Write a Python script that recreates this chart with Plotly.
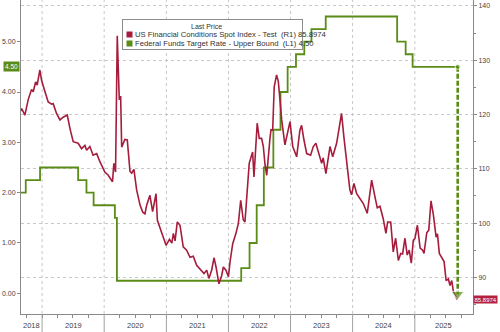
import plotly.graph_objects as go
import pandas as pd

# ---------------- data ----------------
fci_dates = [
    "2018-08-25", "2018-09-03", "2018-09-22", "2018-10-11", "2018-10-31", "2018-11-10", "2018-11-24",
    "2018-12-03", "2018-12-19", "2018-12-29", "2019-01-18", "2019-02-06", "2019-02-26", "2019-03-07",
    "2019-03-27", "2019-04-16", "2019-05-05", "2019-05-29", "2019-06-14", "2019-07-03", "2019-08-01",
    "2019-08-21", "2019-09-10", "2019-09-20", "2019-10-09", "2019-10-28", "2019-11-18", "2019-12-07",
    "2020-01-05", "2020-01-25", "2020-02-19", "2020-02-27", "2020-03-08", "2020-03-18", "2020-03-30",
    "2020-04-07", "2020-04-13", "2020-05-02", "2020-05-16", "2020-06-01", "2020-06-11", "2020-06-24",
    "2020-07-10", "2020-07-30", "2020-08-15", "2020-08-28", "2020-09-07", "2020-09-26", "2020-10-12",
    "2020-11-01", "2020-11-09", "2020-12-04", "2020-12-30", "2021-01-19", "2021-02-02", "2021-02-11",
    "2021-02-21", "2021-03-06", "2021-03-22", "2021-04-10", "2021-04-30", "2021-05-20", "2021-06-08",
    "2021-06-28", "2021-07-22", "2021-08-10", "2021-08-26", "2021-09-08", "2021-09-24", "2021-10-08",
    "2021-10-20", "2021-11-06", "2021-11-22", "2021-12-02", "2021-12-17", "2022-01-01", "2022-01-10",
    "2022-01-26", "2022-02-14", "2022-02-28", "2022-03-14", "2022-03-29", "2022-04-08", "2022-04-22",
    "2022-05-03", "2022-05-23", "2022-05-31", "2022-06-19", "2022-07-01", "2022-07-15", "2022-07-25",
    "2022-08-04", "2022-08-14", "2022-09-02", "2022-09-08", "2022-09-18", "2022-09-27", "2022-10-11",
    "2022-10-21", "2022-10-31", "2022-11-10", "2022-11-29", "2022-12-19", "2022-12-29", "2023-01-14",
    "2023-02-06", "2023-02-25", "2023-03-07", "2023-03-21", "2023-04-06", "2023-04-29", "2023-05-15",
    "2023-05-30", "2023-06-19", "2023-07-03", "2023-07-12", "2023-07-28", "2023-08-21", "2023-09-06",
    "2023-09-29", "2023-10-14", "2023-10-28", "2023-11-11", "2023-11-30", "2023-12-16", "2023-12-26",
    "2024-01-09", "2024-01-25", "2024-02-13", "2024-03-04", "2024-03-27", "2024-04-22", "2024-05-11",
    "2024-05-25", "2024-06-10", "2024-06-29", "2024-07-15", "2024-07-25", "2024-08-12", "2024-08-27",
    "2024-09-10", "2024-09-26", "2024-10-10", "2024-10-21", "2024-11-04", "2024-11-17", "2024-11-29",
    "2024-12-11", "2024-12-23", "2025-01-02", "2025-01-16", "2025-02-01", "2025-02-16", "2025-02-24",
    "2025-03-12", "2025-03-24", "2025-04-06", "2025-04-20", "2025-05-06", "2025-05-14", "2025-05-25",
    "2025-06-09", "2025-06-22", "2025-07-04", "2025-07-17", "2025-07-27", "2025-08-06", "2025-08-16",
    "2025-08-28", "2025-09-08",
]
fci_values = [
    120.5, 121.1, 119.9, 122.7, 124.6, 124.2, 126.0,
    125.4, 128.2, 126.3, 124.2, 122.3, 121.9, 122.0,
    120.2, 119.0, 119.5, 119.9, 117.4, 115.0, 114.7,
    113.7, 114.3, 113.4, 114.1, 112.5, 112.8, 111.3,
    109.4, 108.8, 107.6, 111.0, 109.4, 134.5, 122.7,
    123.4, 114.0, 115.4, 115.3, 109.5, 109.2, 109.9,
    106.1, 103.3, 102.0, 101.7, 103.3, 105.1, 102.1,
    105.4, 100.5, 98.1, 95.9, 97.0, 96.3, 98.1,
    96.7, 100.2, 99.6, 95.6, 95.0, 93.7, 93.9,
    92.2, 91.3, 90.7, 91.3, 89.8, 91.3, 93.6,
    91.9, 88.8, 90.3, 91.9, 91.3, 90.1, 92.8,
    96.2, 98.1, 99.9, 104.2, 100.6, 100.2, 107.3,
    111.0, 113.1, 108.5, 118.4, 115.6, 115.6, 114.1,
    110.7, 108.8, 115.6, 117.2, 117.1, 125.1, 127.3,
    126.1, 122.7, 119.0, 114.4, 117.1, 118.7, 114.1,
    112.2, 117.1, 118.0, 115.3, 112.8, 112.5, 114.1,
    114.7, 112.2, 111.0, 112.0, 109.1, 114.1, 112.2,
    114.7, 117.7, 120.2, 115.8, 110.3, 106.1, 105.2,
    107.3, 105.4, 104.5, 103.6, 101.8, 107.9, 104.9,
    102.8, 103.1, 100.8, 98.1, 100.2, 100.2, 94.7,
    97.2, 93.1, 94.4, 94.3, 97.2, 94.1, 95.0,
    92.6, 96.8, 97.2, 99.6, 95.4, 95.0, 94.4,
    98.2, 98.7, 104.1, 101.5, 97.4, 98.0, 94.4,
    93.5, 92.9, 89.4, 89.7, 88.5, 89.4, 87.3,
    86.7, 85.8974,
]

fed_dates = [
    "2018-06-14", "2018-09-27", "2018-12-20", "2019-08-01", "2019-09-19", "2019-10-31",
    "2020-03-04", "2020-03-16", "2022-03-17", "2022-05-05", "2022-06-16", "2022-07-28",
    "2022-09-22", "2022-11-03", "2022-12-15", "2023-02-02", "2023-03-23", "2023-05-04",
    "2023-07-27", "2024-09-19", "2024-11-08", "2024-12-19", "2025-09-10",
]
fed_rates = [
    2.00, 2.25, 2.50, 2.25, 2.00, 1.75,
    1.50, 0.25, 0.50, 1.00, 1.75, 2.50,
    3.25, 4.00, 4.50, 4.75, 5.00, 5.25,
    5.50, 5.00, 4.75, 4.50, 4.50,
]

years = [2018, 2019, 2020, 2021, 2022, 2023, 2024, 2025]
left_ticks = [0, 1, 2, 3, 4, 5]
left_ticktext = ["0.00", "1.00", "2.00", "3.00", "4.00", "5.00"]
right_ticks = [90, 100, 110, 120, 130, 140]
right_minor = [85, 95, 105, 115, 125, 135]

last_fci = 85.8974
last_fed = 4.50
arrow_date = "2025-09-10"
arrow_bottom_right = 86.9

x_range = ["2018-08-30", "2025-12-09"]
left_range = [-0.411, 5.828]
right_range = [83.24, 141.1]

legend_title = "Last Price"
fci_name = "US Financial Conditions Spot Index - Test  (R1) 85.8974"
fed_name = "Federal Funds Target Rate - Upper Bound  (L1) 4.50"

# ---------------- style ----------------
GREEN = "#5a8c17"
RED = "#a51c3c"
RED_LABEL = "#b3233f"
AX = "#8a8a8a"
TXT = "#444444"
FONT = "Liberation Sans"
W, H = 500, 332
ML, MR, MT, MB = 21, 27, 0, 18
PW, PH = W - ML - MR, H - MT - MB


def px(x):
    return (x - ML) / PW


def py(y):
    return (H - MB - y) / PH


def left_to_right(v):
    return right_range[0] + (v - left_range[0]) * (right_range[1] - right_range[0]) / (left_range[1] - left_range[0])


fig = go.Figure()

fig.add_trace(go.Scatter(
    x=fed_dates, y=fed_rates, mode="lines", line=dict(color=GREEN, width=1.8, shape="hv"),
    yaxis="y", showlegend=False, hoverinfo="skip"))

fig.add_trace(go.Scatter(
    x=fci_dates, y=fci_values, mode="lines", line=dict(color=RED, width=1.6),
    yaxis="y2", showlegend=False, hoverinfo="skip"))

fig.add_trace(go.Scatter(
    x=[arrow_date, arrow_date], y=[left_to_right(last_fed), arrow_bottom_right],
    mode="lines+markers", yaxis="y2",
    line=dict(color=GREEN, width=2.6, dash="5px,2px"),
    marker=dict(symbol=["circle", "triangle-down"], size=[5, 11], color=GREEN),
    showlegend=False, hoverinfo="skip"))

shapes = []
annotations = []

# year separators and labels
xr0, xr1 = pd.Timestamp(x_range[0]), pd.Timestamp(x_range[1])
for yr in years:
    start = pd.Timestamp(f"{yr}-01-01")
    end = pd.Timestamp(f"{yr + 1}-01-01")
    if xr0 < start < xr1:
        shapes.append(dict(type="line", xref="x", yref="paper", x0=start, x1=start, y0=0, y1=1,
                           line=dict(color="#c8c8c8", width=1, dash="dot"), layer="below"))
        shapes.append(dict(type="line", xref="x", yref="paper", x0=start, x1=start, y0=0, y1=py(H),
                           line=dict(color="#a0a0a0", width=1)))
    s, e = max(start, xr0), min(end, xr1)
    mid = s + (e - s) / 2
    annotations.append(dict(x=mid.strftime("%Y-%m-%d"), y=py(325), xref="x", yref="paper",
                            text=str(yr), showarrow=False, font=dict(size=7.5, color=TXT, family=FONT),
                            xanchor="center", yanchor="middle"))

# legend box (manual, drawn as annotations so it sits above the lines)
annotations.append(dict(x=px(122), y=py(19), xref="paper", yref="paper", text=" ", showarrow=False,
                        xanchor="left", yanchor="top", width=179, height=28.5, borderpad=0,
                        bgcolor="white", bordercolor="#8c8c8c", borderwidth=1,
                        font=dict(size=5, family=FONT)))
annotations.append(dict(x=px(206), y=py(26.5), xref="paper", yref="paper", text=legend_title, showarrow=False,
                        font=dict(size=7, color="#333", family=FONT), xanchor="center", yanchor="middle"))
for i, (name, col) in enumerate([(fci_name, RED), (fed_name, GREEN)]):
    yc = 34.8 + i * 8.3
    annotations.append(dict(x=px(126), y=py(yc), xref="paper", yref="paper", text=" ", showarrow=False,
                            xanchor="left", yanchor="middle", width=5, height=5, borderpad=0,
                            bgcolor=col, font=dict(size=4, family=FONT)))
    annotations.append(dict(x=px(133), y=py(yc), xref="paper", yref="paper", text=name, showarrow=False,
                            font=dict(size=7.7, color="#333", family=FONT), xanchor="left", yanchor="middle"))

# last-value labels
annotations.append(dict(x=0, y=last_fed, xref="paper", yref="y", text=f"{last_fed:.2f}", showarrow=False,
                        xanchor="right", yanchor="middle", xshift=-1, bgcolor=GREEN, borderpad=1,
                        font=dict(size=6.5, color="white", family=FONT)))
annotations.append(dict(x=1, y=last_fci, xref="paper", yref="y2", text=f"{last_fci}", showarrow=False,
                        xanchor="left", yanchor="middle", xshift=0, bgcolor=RED_LABEL, borderpad=0.5,
                        font=dict(size=6, color="white", family=FONT)))

fig.update_layout(
    width=W, height=H,
    margin=dict(l=ML, r=MR, t=MT, b=MB, pad=0),
    paper_bgcolor="white", plot_bgcolor="white",
    font=dict(family=FONT, size=7, color=TXT),
    showlegend=False,
    xaxis=dict(
        type="date", range=x_range, showgrid=False, zeroline=False,
        showline=True, linecolor=AX, linewidth=1,
        showticklabels=False, ticks="",
        minor=dict(ticks="outside", dtick="M3", tick0="2018-01-01", ticklen=3, tickcolor=AX, showgrid=False),
    ),
    yaxis=dict(
        range=left_range, tickvals=left_ticks, ticktext=left_ticktext,
        showgrid=False, zeroline=False, showline=True, linecolor=AX, linewidth=1,
        ticks="outside", ticklen=3, tickcolor=AX, tickfont=dict(size=7, color=TXT, family=FONT),
    ),
    yaxis2=dict(
        range=right_range, tickvals=right_ticks, overlaying="y", side="right", anchor="x",
        showgrid=True, gridcolor="#c8c8c8", griddash="dot", gridwidth=1, zeroline=False,
        showline=True, linecolor=AX, linewidth=1,
        ticks="outside", ticklen=3, tickcolor=AX, tickfont=dict(size=7, color=TXT, family=FONT),
        minor=dict(tickvals=right_minor, ticks="outside", ticklen=2, tickcolor=AX, showgrid=False),
    ),
    shapes=shapes,
    annotations=annotations,
)

fig.write_html("out.html")
